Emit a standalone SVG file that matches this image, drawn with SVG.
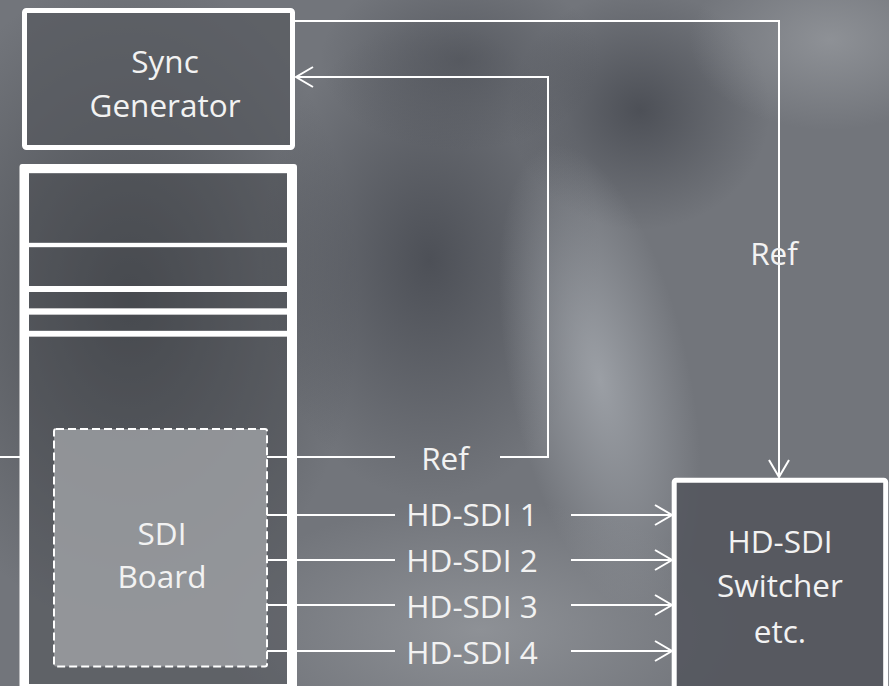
<svg xmlns="http://www.w3.org/2000/svg" width="889" height="686" viewBox="0 0 889 686">
<defs>
  <radialGradient id="gDark1" cx="0.5" cy="0.5" r="0.5"><stop offset="0" stop-color="#45484d" stop-opacity="0.9"/><stop offset="1" stop-color="#45484d" stop-opacity="0"/></radialGradient>
  <radialGradient id="gDark2" cx="0.5" cy="0.5" r="0.5"><stop offset="0" stop-color="#4b4e55" stop-opacity="0.95"/><stop offset="1" stop-color="#4b4e55" stop-opacity="0"/></radialGradient>
  <radialGradient id="gLight1" cx="0.5" cy="0.5" r="0.5"><stop offset="0" stop-color="#9da1a7" stop-opacity="0.95"/><stop offset="1" stop-color="#9da1a7" stop-opacity="0"/></radialGradient>
  <radialGradient id="gLight2" cx="0.5" cy="0.5" r="0.5"><stop offset="0" stop-color="#919499" stop-opacity="0.9"/><stop offset="1" stop-color="#919499" stop-opacity="0"/></radialGradient>
  <marker id="arrow" markerUnits="userSpaceOnUse" markerWidth="22" markerHeight="26" viewBox="0 0 22 26" refX="19" refY="13" orient="auto">
    <path d="M2,3 L19,13 L2,23" fill="none" stroke="#ffffff" stroke-width="2"/>
  </marker>
</defs>
<style>
  .lbl { font-family: "Open Sans", "Noto Sans", "Liberation Sans", sans-serif; font-size: 31.5px; fill: #f2f2f2; text-anchor: middle; }
  .box { stroke: #ffffff; stroke-width: 5; }
  .wire { fill: none; stroke: #ffffff; stroke-width: 2; }
  .arr { marker-end: url(#arrow); }
</style>

<g id="background">
  <rect x="0" y="0" width="889" height="686" fill="#72757b"/>
  <ellipse cx="130" cy="300" rx="230" ry="330" fill="url(#gDark1)"/>
  <ellipse cx="430" cy="260" rx="170" ry="240" fill="url(#gDark2)"/>
  <ellipse cx="640" cy="110" rx="130" ry="120" fill="url(#gDark2)"/>
  <ellipse cx="460" cy="60" rx="140" ry="90" fill="url(#gDark2)" opacity="0.7"/>
  <ellipse cx="600" cy="380" rx="90" ry="240" transform="rotate(-12 600 380)" fill="url(#gLight1)"/>
  <ellipse cx="480" cy="630" rx="260" ry="130" fill="url(#gLight2)"/>
  <ellipse cx="830" cy="40" rx="140" ry="90" fill="url(#gLight2)"/>
</g>

<g id="sync-generator">
  <rect class="box" x="24.5" y="10.5" width="268" height="137" rx="2" fill="#55585e" fill-opacity="0.7"/>
  <text class="lbl" x="165" y="73">Sync</text>
  <text class="lbl" x="165" y="117">Generator</text>
</g>

<g id="rack">
  <path fill="#ffffff" fill-rule="evenodd" d="M22,164 H294 Q297,164 297,167 V690 H19.5 V167 Q19.5,164 22,164 Z
    M29,173.3 V242.7 H287 V173.3 Z
    M29,247.3 V286 H287 V247.3 Z
    M29,292 V308.3 H287 V292 Z
    M29,314.7 V330.7 H287 V314.7 Z
    M29,336.7 V684 H287 V336.7 Z"/>
  <g fill="#44474c" fill-opacity="0.4">
    <rect x="29" y="173.3" width="258" height="69.4"/>
    <rect x="29" y="247.3" width="258" height="38.7"/>
    <rect x="29" y="292" width="258" height="16.3"/>
    <rect x="29" y="314.7" width="258" height="16"/>
    <rect x="29" y="336.7" width="258" height="347.3"/>
  </g>
</g>

<g id="sdi-board">
  <rect x="54" y="429" width="213" height="237.5" rx="2" fill="#a0a2a6" fill-opacity="0.8" stroke="#ffffff" stroke-width="2" stroke-dasharray="8,4"/>
  <text class="lbl" x="162" y="545">SDI</text>
  <text class="lbl" x="162" y="588">Board</text>
</g>

<g id="switcher">
  <rect class="box" x="674.2" y="480.2" width="211.5" height="220" rx="2" fill="#50535a" fill-opacity="0.8"/>
  <text class="lbl" x="780" y="553">HD-SDI</text>
  <text class="lbl" x="780" y="597">Switcher</text>
  <text class="lbl" x="780" y="643">etc.</text>
</g>

<g id="connectors">
  <path class="wire arr" d="M295,21 H779 V477"/>
  <path class="wire" d="M0,457 H20"/>
  <path class="wire" d="M267,457 H395"/>
  <path class="wire arr" d="M500,457 H548 V77 H296"/>
  <path class="wire" d="M267,515 H395"/>
  <path class="wire arr" d="M571,515 H672"/>
  <path class="wire" d="M267,560 H395"/>
  <path class="wire arr" d="M571,560 H672"/>
  <path class="wire" d="M267,605 H395"/>
  <path class="wire arr" d="M571,605 H672"/>
  <path class="wire" d="M267,651 H395"/>
  <path class="wire arr" d="M571,651 H672"/>
  <text class="lbl" x="774" y="265">Ref</text>
  <text class="lbl" x="445" y="470">Ref</text>
  <text class="lbl" x="472" y="526">HD-SDI 1</text>
  <text class="lbl" x="472" y="572">HD-SDI 2</text>
  <text class="lbl" x="472" y="618">HD-SDI 3</text>
  <text class="lbl" x="472" y="664">HD-SDI 4</text>
</g>
</svg>
